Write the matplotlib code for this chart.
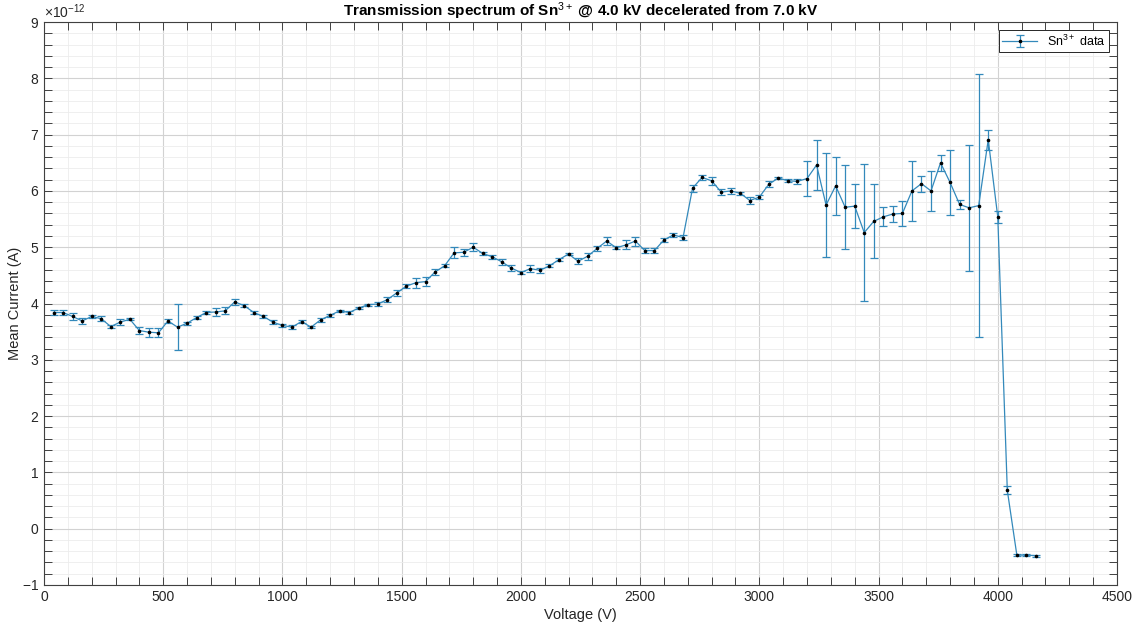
import numpy as np
import matplotlib
matplotlib.use("Agg")
import matplotlib.pyplot as plt
from matplotlib.ticker import MultipleLocator, ScalarFormatter

plt.rcParams["font.family"] = ["Liberation Sans", "DejaVu Sans"]
plt.rcParams["mathtext.fontset"] = "custom"
plt.rcParams["mathtext.rm"] = "Liberation Sans"
plt.rcParams["mathtext.it"] = "Liberation Sans:italic"
plt.rcParams["mathtext.bf"] = "Liberation Sans:bold"
plt.rcParams["axes.unicode_minus"] = False

# voltage steps (V)
voltage = np.arange(40, 4161, 40)

# mean current, units of 1e-12 A
current = np.array([
    3.84, 3.84, 3.77, 3.69, 3.77, 3.73, 3.59, 3.67, 3.72, 3.52,
    3.49, 3.48, 3.69, 3.58, 3.65, 3.75, 3.84, 3.85, 3.87, 4.03,
    3.96, 3.84, 3.77, 3.67, 3.61, 3.58, 3.68, 3.58, 3.71, 3.79,
    3.87, 3.84, 3.92, 3.98, 3.99, 4.07, 4.19, 4.31, 4.37, 4.39,
    4.56, 4.67, 4.90, 4.91, 5.00, 4.89, 4.83, 4.74, 4.63, 4.55,
    4.62, 4.59, 4.67, 4.78, 4.88, 4.75, 4.84, 4.98, 5.11, 4.99,
    5.04, 5.11, 4.94, 4.94, 5.13, 5.22, 5.17, 6.05, 6.24, 6.18,
    5.98, 6.00, 5.96, 5.83, 5.89, 6.12, 6.23, 6.18, 6.17, 6.22,
    6.46, 5.75, 6.09, 5.71, 5.73, 5.26, 5.46, 5.54, 5.59, 5.60,
    6.00, 6.13, 6.00, 6.50, 6.15, 5.76, 5.70, 5.74, 6.91, 5.54,
    0.68, -0.47, -0.47, -0.48,
])

# error bar half-widths, units of 1e-12 A
error = np.array([
    0.045, 0.04, 0.06, 0.06, 0.02, 0.04, 0.03, 0.05, 0.02, 0.07,
    0.08, 0.08, 0.03, 0.41, 0.03, 0.03, 0.03, 0.07, 0.06, 0.05,
    0.03, 0.02, 0.02, 0.04, 0.03, 0.03, 0.02, 0.02, 0.04, 0.03,
    0.02, 0.03, 0.02, 0.02, 0.03, 0.04, 0.05, 0.03, 0.09, 0.08,
    0.05, 0.03, 0.10, 0.06, 0.07, 0.02, 0.04, 0.05, 0.05, 0.03,
    0.06, 0.04, 0.03, 0.02, 0.02, 0.05, 0.06, 0.04, 0.07, 0.03,
    0.08, 0.08, 0.04, 0.04, 0.04, 0.04, 0.04, 0.06, 0.05, 0.07,
    0.06, 0.05, 0.03, 0.06, 0.04, 0.05, 0.02, 0.03, 0.04, 0.31,
    0.44, 0.92, 0.51, 0.75, 0.39, 1.22, 0.66, 0.17, 0.14, 0.22,
    0.53, 0.14, 0.36, 0.14, 0.58, 0.08, 1.12, 2.33, 0.18, 0.11,
    0.07, 0.02, 0.02, 0.02,
])

fig = plt.figure(figsize=(11.37, 6.31), dpi=100)
ax = fig.add_axes([0.0387, 0.073, 0.9437, 0.892])

line_col = "#3389bb"
ax.errorbar(voltage, current * 1e-12, yerr=error * 1e-12,
            color=line_col, lw=0.9, elinewidth=0.9, capsize=3, capthick=0.9,
            marker=".", markersize=3.2, markerfacecolor="black",
            markeredgecolor="black", label="Sn$^{3+}$ data")

ax.set_xlim(0, 4500)
ax.set_ylim(-1e-12, 9e-12)
ax.xaxis.set_major_locator(MultipleLocator(500))
ax.xaxis.set_minor_locator(MultipleLocator(100))
ax.yaxis.set_major_locator(MultipleLocator(1e-12))
ax.yaxis.set_minor_locator(MultipleLocator(0.2e-12))
fmt = ScalarFormatter(useMathText=True)
fmt.set_powerlimits((0, 0))
ax.yaxis.set_major_formatter(fmt)
ax.yaxis.get_offset_text().set_fontsize(10)
ax.yaxis.get_offset_text().set_color("#262626")

ax.grid(which="major", color="#d2d2d2", lw=0.8)
ax.grid(which="minor", color="#ececec", lw=0.6)
ax.set_axisbelow(True)

ax.tick_params(which="both", direction="in", top=True, right=True,
               length=6, width=0.7, colors="#404040", labelsize=10,
               labelcolor="#262626")
for s in ax.spines.values():
    s.set_color("#404040")
    s.set_linewidth(0.8)

ax.set_xlabel("Voltage (V)", fontsize=10.5, color="#262626", labelpad=3)
ax.set_ylabel("Mean Current (A)", fontsize=10.5, color="#262626", labelpad=0)
ax.set_title("Transmission spectrum of Sn$^{3+}$ @ 4.0 kV decelerated from 7.0 kV",
             fontsize=11, fontweight="bold", pad=4)

leg = ax.legend(loc="upper right", fontsize=9, fancybox=False, framealpha=1,
                edgecolor="#262626", borderpad=0.3, handlelength=2.8,
                borderaxespad=0.6)
leg.get_frame().set_linewidth(0.7)

fig.savefig("out.png", dpi=100)
